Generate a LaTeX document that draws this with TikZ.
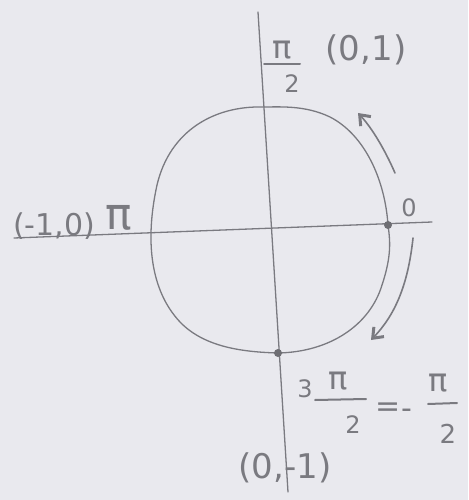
\documentclass[tikz,border=0pt]{standalone}
\usepackage{fontspec}
\setmainfont{DejaVu Sans}
\usetikzlibrary{arrows.meta}
\definecolor{paper}{HTML}{E9E9EE}
\definecolor{pencil}{HTML}{7A7A80}
\tikzset{
  pen/.style={draw=pencil, line width=1.3pt, line cap=round, line join=round},
  bar/.style={draw=pencil, line width=2pt, line cap=round},
  lab/.style={text=pencil, inner sep=0pt, font=\fontsize{#1}{#1}\selectfont},
  lab/.default=26,
  dot/.style={circle, fill=pencil!90!black, inner sep=0pt, minimum size=8pt},
  arr/.style={pen, line width=1.6pt, -{Straight Barb[length=9pt,width=14pt,line width=3pt]}}
}
\begin{document}
\begin{tikzpicture}[x=1pt,y=-1pt]
\fill[paper] (0,0) rectangle (468,500);
\useasboundingbox (0,0) rectangle (468,500);
% axes
\coordinate (vt) at (258,12);
\coordinate (vb) at (288,492);
\coordinate (hl) at (14,238);
\coordinate (hr) at (432,222);
\draw[pen] (vt) -- (vb);
\draw[pen] (hl) -- (hr);
% circle-ish
\draw[pen] (262,107) .. controls (215,106) and (170,130) .. (157,185)
  .. controls (145,240) and (150,290) .. (180,322)
  .. controls (205,348) and (245,352) .. (278,353)
  .. controls (330,352) and (370,325) .. (382,285)
  .. controls (392,255) and (390,240) .. (388,225)
  .. controls (385,180) and (365,135) .. (330,117)
  .. controls (305,105) and (280,107) .. (262,107);
\node[dot] (p0) at (388,225) {};
\node[dot] (p3) at (278,353) {};
% arrows
\coordinate (a1s) at (395,173);
\coordinate (a1e) at (358,113);
\draw[arr] (a1s) .. controls (385,150) and (372,128) .. (a1e);
\coordinate (a2s) at (413,238);
\coordinate (a2e) at (371,340);
\draw[arr] (a2s) .. controls (408,285) and (395,315) .. (a2e);
% labels
\node[lab=24] (zero) at (409,208) {0};
% pi/2 top
\node[lab=32] (tpi) at (282,50) {π};
\coordinate (tb1) at (264,64); \coordinate (tb2) at (300,64);
\draw[bar] (tb1) -- (tb2);
\node[lab=24] (t2) at (292,84) {2};
\node[lab=34] (top) at (366,50) {(0,1)};
% left
\node[lab=30] (left) at (54,226) {(-1,0)};
\node[lab=44] (pi) at (119,218) {π};
% bottom
\node[lab=34] (bot) at (285,468) {(0,-1)};
\node[lab=24] (b3) at (305,389) {3};
\node[lab=32] (bpi) at (338,381) {π};
\coordinate (bb1) at (315,400); \coordinate (bb2) at (366,399);
\draw[bar] (bb1) -- (bb2);
\node[lab=24] (b2) at (353,425) {2};
\node[lab=30] (eq) at (388,410) {=};
\node[lab=30] (minus) at (407,414) {-};
\node[lab=32] (bpi2) at (438,383) {π};
\coordinate (bc1) at (428,404); \coordinate (bc2) at (457,403);
\draw[bar] (bc1) -- (bc2);
\node[lab=26] (b22) at (448,434) {2};
\end{tikzpicture}
\end{document}
